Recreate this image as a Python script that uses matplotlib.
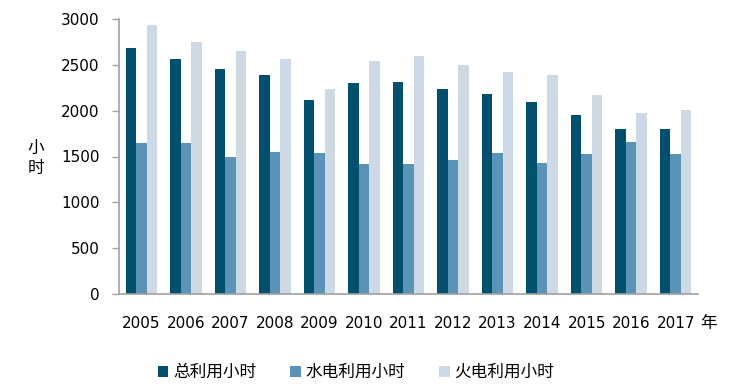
import matplotlib
matplotlib.use("Agg")
import matplotlib.pyplot as plt
import numpy as np

plt.rcParams['font.family'] = ['DejaVu Sans', 'Noto Sans CJK SC']

years = ['2005', '2006', '2007', '2008', '2009', '2010', '2011', '2012', '2013', '2014', '2015', '2016', '2017']
total_hours = [2680, 2560, 2450, 2390, 2120, 2300, 2310, 2240, 2180, 2100, 1950, 1800, 1800]
hydro_hours = [1650, 1650, 1500, 1550, 1540, 1420, 1420, 1460, 1540, 1430, 1530, 1660, 1530]
thermal_hours = [2940, 2750, 2650, 2560, 2240, 2540, 2600, 2500, 2420, 2390, 2170, 1970, 2010]
series_names = ['总利用小时', '水电利用小时', '火电利用小时']
yticks = [0, 500, 1000, 1500, 2000, 2500, 3000]

colors = ['#02506e', '#5b93b8', '#cdd9e5']

W, H = 737, 392
fig = plt.figure(figsize=(W / 100, H / 100), dpi=100)
ax = fig.add_axes([119 / W, 1 - 294 / H, (698 - 119) / W, (294 - 19) / H])

x = np.arange(len(years))
bw = 0.235
for i, (vals, name, c) in enumerate(zip([total_hours, hydro_hours, thermal_hours], series_names, colors)):
    ax.bar(x + (i - 1) * bw, vals, width=bw, color=c, label=name, linewidth=0)

ax.set_xlim(-0.5, len(years) - 0.5)
ax.set_ylim(0, 3000)
ax.set_yticks(yticks)
ax.set_yticklabels([str(t) for t in yticks], fontsize=11)
ax.set_xticks(x)
ax.set_xticklabels(years, fontsize=11)
ax.tick_params(axis='x', length=0, pad=16)
ax.tick_params(axis='y', length=5, width=1, color='#a0a0a0', pad=9)
for s in ['top', 'right']:
    ax.spines[s].set_visible(False)
for s in ['left', 'bottom']:
    ax.spines[s].set_color('#a0a0a0')
    ax.spines[s].set_linewidth(1.2)

fig.text(700 / W, 1 - 323 / H, '年', fontsize=12, ha='left', va='center')
fig.text(36 / W, 1 - 158 / H, '小\n时', fontsize=12, ha='center', va='center', linespacing=1.1)

fig.legend(loc='center', bbox_to_anchor=(0.483, 1 - 372 / H), ncol=3, frameon=False,
           fontsize=12, handlelength=0.65, handleheight=0.65, handletextpad=0.3,
           columnspacing=2.0)

fig.savefig('out.png', dpi=100)
